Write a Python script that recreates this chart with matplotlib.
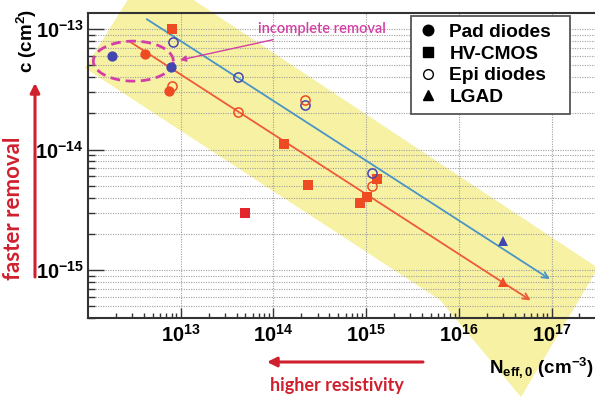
import numpy as np
import matplotlib
matplotlib.use("Agg")
import matplotlib.pyplot as plt
from matplotlib.lines import Line2D
from matplotlib.patches import Polygon, FancyArrowPatch
from matplotlib.ticker import FixedLocator, LogLocator, NullFormatter, FuncFormatter

plt.rcParams["font.family"] = ["Liberation Sans", "DejaVu Sans"]
plt.rcParams["mathtext.fontset"] = "custom"
plt.rcParams["mathtext.rm"] = "Liberation Sans:bold"
plt.rcParams["mathtext.it"] = "Liberation Sans:bold"
plt.rcParams["mathtext.bf"] = "Liberation Sans:bold"
plt.rcParams["mathtext.default"] = "rm"

# ---- data: removal coefficient c vs initial effective doping N_eff,0 ----
# colour key per point: "o" = orange series, "b" = blue series
pad_N = [1.8e12, 4.1e12, 7.85e12, 7.5e12]
pad_c = [6.0e-14, 6.2e-14, 4.87e-14, 3.08e-14]
pad_col = ["b", "o", "b", "o"]

hv_N = [8.1e12, 1.3e14, 2.35e14, 5.0e13, 1.32e15, 1.01e15, 8.5e14]
hv_c = [1.0e-13, 1.11e-14, 5.07e-15, 3.0e-15, 5.7e-15, 4.07e-15, 3.63e-15]
hv_col = ["o", "o", "o", "r", "o", "o", "o"]

epi_N = [8.3e12, 8.1e12, 4.2e13, 4.2e13, 2.2e14, 2.2e14, 1.15e15, 1.15e15]
epi_c = [7.85e-14, 3.37e-14, 4.0e-14, 2.06e-14, 2.34e-14, 2.57e-14, 6.45e-15, 5.0e-15]
epi_col = ["b", "o", "b", "o", "b", "o", "b", "o"]

lgad_N = [3.0e16, 3.0e16]
lgad_c = [1.75e-15, 8.0e-16]
lgad_col = ["b", "o"]

# trend lines (start / end points)
blue_fit_N = [4.3e12, 9.6e16]
blue_fit_c = [1.21e-13, 8.4e-16]
red_fit_N = [2.84e12, 5.96e16]
red_fit_c = [7.85e-14, 5.6e-16]

# highlighted band (log10 N, log10 c)
band_logN = [11.968, 12.636, 17.502, 16.671, 15.797]
band_logc = [-13.324, -12.502, -14.983, -16.054, -15.249]

# "incomplete removal" ellipse (log10 centre and half-widths in decades)
ell_logN, ell_logc = 12.489, -13.266
ell_wN, ell_wc = 0.4315, 0.166

x_major = [1e13, 1e14, 1e15, 1e16, 1e17]
y_major = [1e-15, 1e-14, 1e-13]

COLORS = {"o": "#ef4b22", "b": "#4446b0", "r": "#e3262d"}
MAGENTA = "#d33fa6"
RED = "#d0202e"

W, H = 595, 399
fig = plt.figure(figsize=(W / 100, H / 100), dpi=100)


def fx(px):
    return px / W


def fy(py):
    return 1 - py / H


ax = fig.add_axes([fx(88), fy(318), 556.2 / W, (318 - 13) / H])
ax.set_xscale("log")
ax.set_yscale("log")
ax.set_xlim(1e12, 1e18)
ax.set_ylim(4.0e-16, 1.36e-13)

# band
band = Polygon(np.column_stack([10 ** np.array(band_logN), 10 ** np.array(band_logc)]),
               closed=True, facecolor="#f7f1a4", edgecolor="none", zorder=0.2, clip_on=False)
ax.add_patch(band)

# grid
ax.grid(True, axis="x", which="major", color="#a0a0a0", linestyle=(0, (1, 1.2)), lw=0.8)
ax.grid(True, axis="y", which="both", color="#a0a0a0", linestyle=(0, (1, 1.2)), lw=0.8)

# trend lines with arrow heads
for N, c, col in [(blue_fit_N, blue_fit_c, "#4a95c4"), (red_fit_N, red_fit_c, "#ee5a3a")]:
    ax.annotate("", xy=(N[1], c[1]), xytext=(N[0], c[0]),
                arrowprops=dict(arrowstyle="->", color=col, lw=1.3, shrinkA=0, shrinkB=0,
                                mutation_scale=11), zorder=2)

# ellipse
t = np.linspace(0, 2 * np.pi, 200)
ax.plot(10 ** (ell_logN + ell_wN * np.cos(t)), 10 ** (ell_logc + ell_wc * np.sin(t)),
        color=MAGENTA, lw=2.0, linestyle=(0, (3.5, 2)), zorder=2.5)


def draw(Ns, cs, cols, marker, ms, filled=True):
    for N, c, k in zip(Ns, cs, cols):
        col = COLORS[k]
        ax.plot([N], [c], linestyle="none", marker=marker, ms=ms,
                markerfacecolor=col if filled else "none", markeredgecolor=col,
                markeredgewidth=0 if filled else 1.1, zorder=4)


draw(pad_N, pad_c, pad_col, "o", 7.4)
draw(hv_N, hv_c, hv_col, "s", 7.6)
draw(epi_N, epi_c, epi_col, "o", 6.6, filled=False)
draw(lgad_N, lgad_c, lgad_col, "^", 7.6)

# annotation
ax.annotate("incomplete removal", xy=(10 ** 12.992, 10 ** -13.257),
            xytext=(fx(258), fy(29)), textcoords="figure fraction",
            ha="left", va="center", color=MAGENTA, fontsize=10.5, family="Lato",
            weight="semibold",
            arrowprops=dict(arrowstyle="-|>", color=MAGENTA, lw=1.0, mutation_scale=9,
                            shrinkA=3, shrinkB=0), zorder=5)

# axes styling
ax.xaxis.set_major_locator(FixedLocator(x_major))
ax.xaxis.set_minor_locator(LogLocator(base=10, subs=np.arange(2, 10), numticks=60))
ax.yaxis.set_major_locator(FixedLocator(y_major))
ax.yaxis.set_minor_locator(LogLocator(base=10, subs=np.arange(2, 10), numticks=60))
fmt = FuncFormatter(lambda v, p: r"$10^{%d}$" % int(round(np.log10(v))))
ax.xaxis.set_major_formatter(fmt)
ax.yaxis.set_major_formatter(fmt)
ax.xaxis.set_minor_formatter(NullFormatter())
ax.yaxis.set_minor_formatter(NullFormatter())
ax.tick_params(axis="both", which="both", direction="in", color="#333333", width=1.0,
               labelsize=14.5, top=False, right=False)
ax.tick_params(axis="x", which="major", length=7, pad=4)
ax.tick_params(axis="x", which="minor", length=3.6)
ax.tick_params(axis="y", which="major", length=11.5, pad=3)
ax.tick_params(axis="y", which="minor", length=5)
for s in ax.spines.values():
    s.set_linewidth(1.5)
    s.set_color("#333333")

# legend
handles = [
    Line2D([], [], linestyle="none", marker="o", ms=7.6, color="black"),
    Line2D([], [], linestyle="none", marker="s", ms=7.8, color="black"),
    Line2D([], [], linestyle="none", marker="o", ms=7.0, markerfacecolor="none",
           markeredgecolor="black", markeredgewidth=1.0),
    Line2D([], [], linestyle="none", marker="^", ms=7.8, color="black"),
]
labels = ["Pad diodes", "HV-CMOS", "Epi diodes", "LGAD"]
leg = fig.legend(handles, labels, loc="upper left",
                 bbox_to_anchor=(fx(411), fy(114), (570 - 411) / W, (114 - 16) / H),
                 mode="expand",
                 bbox_transform=fig.transFigure, borderaxespad=0, frameon=True,
                 fancybox=False, edgecolor="#555555", framealpha=1,
                 prop=dict(family="Liberation Sans", weight="bold", size=13.8),
                 handlelength=1.0, handletextpad=0.6, labelspacing=0.22, borderpad=0.4)
leg.get_frame().set_linewidth(1.3)
leg.set_zorder(10)

# axis titles
fig.text(fx(27), fy(41), r"c (cm$^{2}$)", rotation=90, ha="center", va="center",
         fontsize=13.5, weight="bold")
fig.text(fx(594), fy(367), r"N$_{\mathregular{eff,0}}$ (cm$^{-3}$)", ha="right", va="center",
         fontsize=13.5, weight="bold")

# direction hints
fig.add_artist(FancyArrowPatch(
    (fx(35), fy(277)), (fx(35), fy(83)), transform=fig.transFigure,
    arrowstyle="-|>", mutation_scale=14, color=RED, lw=2.2, shrinkA=0, shrinkB=0))
fig.text(fx(14), fy(208), "faster removal", rotation=90, ha="center", va="center",
         color=RED, fontsize=16, family="Lato", weight="bold")
fig.add_artist(FancyArrowPatch(
    (fx(423), fy(362)), (fx(267), fy(362)), transform=fig.transFigure,
    arrowstyle="-|>", mutation_scale=14, color=RED, lw=2.2, shrinkA=0, shrinkB=0))
fig.text(fx(337), fy(385), "higher resistivity", ha="center", va="center",
         color=RED, fontsize=13, family="Lato", weight="bold")

fig.savefig("out.png", dpi=100)
